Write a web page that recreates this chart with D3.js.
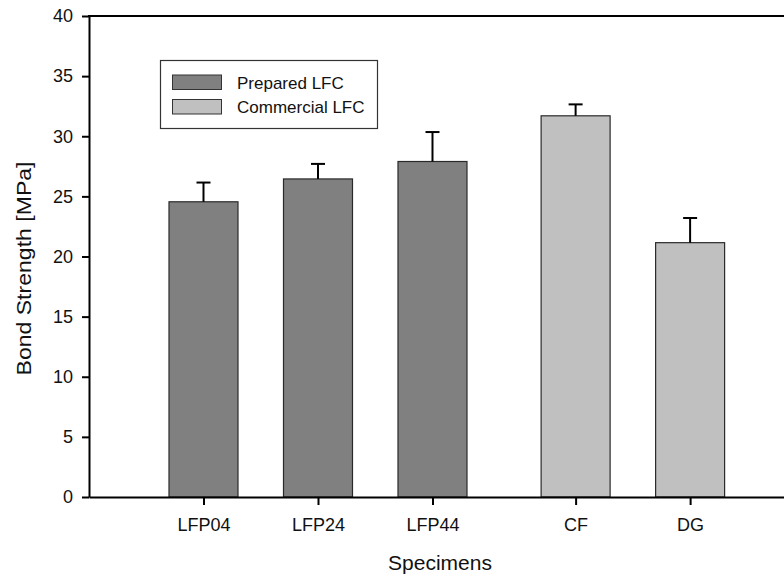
<!DOCTYPE html>
<html>
<head>
<meta charset="utf-8">
<script src="https://cdn.jsdelivr.net/npm/d3@7/dist/d3.min.js"></script>
<style>
  html, body { margin: 0; padding: 0; background: #fff; }
  svg { display: block; font-family: "Liberation Sans", Arial, sans-serif; }
</style>
</head>
<body>
<svg id="chart" width="784" height="578"></svg>
<script>
// ---- data ----
const categories = ["LFP04", "LFP24", "LFP44", "CF", "DG"];
const positions  = [1, 2, 3, 4.25, 5.25];
const groups     = ["Prepared LFC", "Prepared LFC", "Prepared LFC", "Commercial LFC", "Commercial LFC"];
const values     = [24.55, 26.45, 27.9, 31.7, 21.15];
const errors     = [1.6, 1.25, 2.45, 0.95, 2.05];
const yTicks     = [0, 5, 10, 15, 20, 25, 30, 35, 40];
const legendItems = ["Prepared LFC", "Commercial LFC"];
const fills = { "Prepared LFC": "#808080", "Commercial LFC": "#c0c0c0" };

const svg = d3.select("#chart");
const mLeft = 89, mTop = 16, mBottom = 497, mRight = 784;

const x = d3.scaleLinear().domain([0, 6.07]).range([mLeft, mRight]);
const y = d3.scaleLinear().domain([0, 40]).range([mBottom, mTop]);
const barW = 69;

// bars
svg.append("g").selectAll("rect").data(values).join("rect")
  .attr("x", (d, i) => x(positions[i]) - barW / 2)
  .attr("y", d => y(d))
  .attr("width", barW)
  .attr("height", d => y(0) - y(d))
  .attr("fill", (d, i) => fills[groups[i]])
  .attr("stroke", "#2a2a2a")
  .attr("stroke-width", 1.2);

// error bars
const eg = svg.append("g").attr("stroke", "#000").attr("stroke-width", 2);
values.forEach((v, i) => {
  const cx = x(positions[i]);
  eg.append("line").attr("x1", cx).attr("x2", cx).attr("y1", y(v)).attr("y2", y(v + errors[i]));
  eg.append("line").attr("x1", cx - 7).attr("x2", cx + 7).attr("y1", y(v + errors[i])).attr("y2", y(v + errors[i]));
});

// y axis
const yAxis = d3.axisLeft(y).tickValues(yTicks).tickSize(7).tickPadding(9).tickSizeOuter(0);
const gy = svg.append("g").attr("transform", `translate(${mLeft},0)`).call(yAxis);
gy.select(".domain").attr("stroke-width", 2);
gy.selectAll(".tick line").attr("stroke-width", 2);
gy.selectAll(".tick text").attr("font-size", 18).attr("fill", "#111").attr("font-family", "Liberation Sans, Arial, sans-serif");

// x axis
const xAxis = d3.axisBottom(x).tickValues(positions).tickFormat((d, i) => categories[i])
  .tickSize(8).tickPadding(13).tickSizeOuter(0);
const gx = svg.append("g").attr("transform", `translate(0,${mBottom})`).call(xAxis);
gx.select(".domain").attr("stroke-width", 2);
gx.selectAll(".tick line").attr("stroke-width", 2);
gx.selectAll(".tick text").attr("font-size", 18).attr("fill", "#111").attr("font-family", "Liberation Sans, Arial, sans-serif");

// top frame line
svg.append("line").attr("x1", x(0) - 1).attr("x2", mRight).attr("y1", y(40)).attr("y2", y(40))
  .attr("stroke", "#000").attr("stroke-width", 2);

// axis titles
svg.append("text").attr("x", 440).attr("y", 570).attr("text-anchor", "middle")
  .attr("font-size", 21).attr("fill", "#111").text("Specimens");
svg.append("text").attr("transform", `translate(31,${(mTop + mBottom) / 2 + 12}) rotate(-90)`)
  .attr("text-anchor", "middle").attr("font-size", 21).attr("fill", "#111")
  .attr("textLength", 214).attr("lengthAdjust", "spacingAndGlyphs")
  .text("Bond Strength [MPa]");

// legend
const lg = svg.append("g");
lg.append("rect").attr("x", 160.5).attr("y", 60.5).attr("width", 217).attr("height", 68)
  .attr("fill", "#fff").attr("stroke", "#333").attr("stroke-width", 1.2);
legendItems.forEach((name, i) => {
  lg.append("rect").attr("x", 172.5).attr("y", 75 + i * 24.5).attr("width", 49).attr("height", 14.5)
    .attr("fill", fills[name]).attr("stroke", "#333").attr("stroke-width", 1);
  lg.append("text").attr("x", 237).attr("y", 88.5 + i * 24.5).attr("font-size", 17)
    .attr("fill", "#111").text(name);
});
</script>
</body>
</html>
